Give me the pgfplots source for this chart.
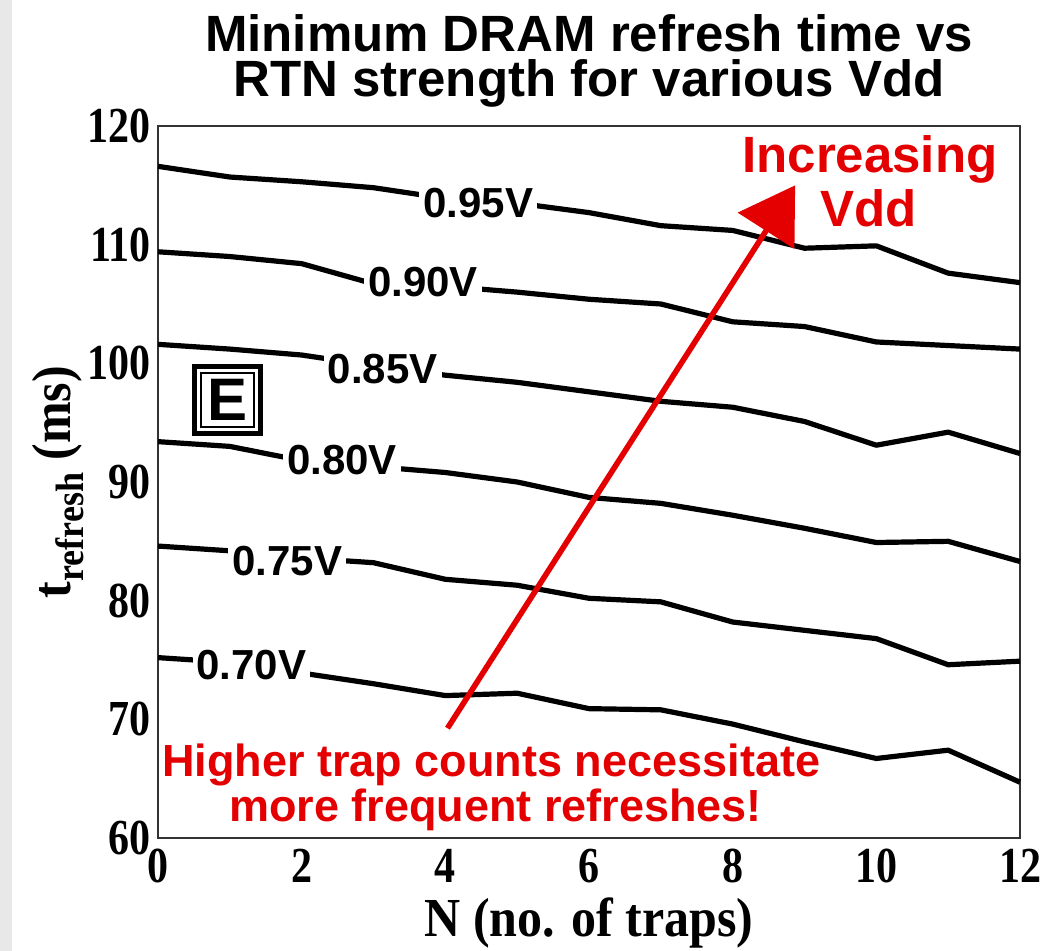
\documentclass[border=0pt]{standalone}
\usepackage{pgfplots}
\pgfplotsset{compat=1.18}
\usepackage{fontspec}
\setmainfont{Liberation Serif}
\newfontfamily\arial{Liberation Sans}
\usetikzlibrary{arrows.meta}
\definecolor{annred}{RGB}{228,0,0}

\begin{document}
\begin{tikzpicture}
\begin{axis}[
  at={(0,0)}, anchor=south west,
  scale only axis, width=431pt, height=356pt,
  xmin=0, xmax=12, ymin=60, ymax=120,
  xtick={0,2,...,12}, ytick={60,70,...,120},
  major tick length=0pt,
  axis line style={draw=black!80, line width=0.8pt},
  tick label style={font=\fontsize{21}{21}\selectfont\bfseries},
  xticklabel={\scalebox{1}[1.2]{\pgfmathprintnumber{\tick}}},
  yticklabel={\scalebox{1}[1.2]{\pgfmathprintnumber{\tick}}},
  xticklabel style={yshift=-2pt},
  /pgf/number format/assume math mode=true,
  xlabel={\scalebox{1}[1.1]{N (no. of traps)}},
  xlabel style={font=\fontsize{25}{25}\selectfont\bfseries, at={(axis description cs:0.5,0)}, anchor=base, yshift=-49.5pt},
  ylabel={\scalebox{1}[1.1]{t\raisebox{-0.5ex}{\fontsize{18}{18}\selectfont refresh} (ms)}},
  ylabel style={font=\fontsize{25}{25}\selectfont\bfseries, at={(axis description cs:0,0.5)}, anchor=base, yshift=43.5pt},
  clip=false,
]
\tikzset{crv/.style={black, line width=2.6pt, line join=round, mark=none}}
% 0.95 V
\addplot[crv] coordinates {(0,116.6) (1,115.7) (2,115.3) (3,114.8) (4,113.9) (5,113.5) (6,112.7) (7,111.6) (8,111.2) (9,109.7) (10,109.9) (11,107.6) (12,106.8)};
% 0.90 V
\addplot[crv] coordinates {(0,109.4) (1,109.0) (2,108.4) (3,106.7) (4,106.5) (5,106.0) (6,105.4) (7,105.0) (8,103.5) (9,103.1) (10,101.8) (11,101.5) (12,101.2)};
% 0.85 V
\addplot[crv] coordinates {(0,101.6) (1,101.2) (2,100.7) (3,99.8) (4,99.0) (5,98.4) (6,97.6) (7,96.8) (8,96.3) (9,95.1) (10,93.1) (11,94.2) (12,92.4)};
% 0.80 V
\addplot[crv] coordinates {(0,93.4) (1,93.0) (2,91.8) (3,91.3) (4,90.8) (5,90.0) (6,88.7) (7,88.2) (8,87.2) (9,86.1) (10,84.9) (11,85.0) (12,83.3)};
% 0.75 V
\addplot[crv] coordinates {(0,84.6) (1,84.2) (2,83.6) (3,83.2) (4,81.8) (5,81.3) (6,80.2) (7,79.9) (8,78.2) (9,77.5) (10,76.8) (11,74.6) (12,74.9)};
% 0.70 V
\addplot[crv] coordinates {(0,75.2) (1,74.8) (2,73.9) (3,73.0) (4,72.0) (5,72.2) (6,70.9) (7,70.8) (8,69.6) (9,68.1) (10,66.7) (11,67.4) (12,64.7)};

\tikzset{vlab/.style={fill=white, inner xsep=2pt, inner ysep=1pt, font=\arial\bfseries\fontsize{21}{21}\selectfont}}
\node[vlab] at (axis cs:4.46,113.5) {0.95V};
\node[vlab] at (axis cs:3.69,106.85) {0.90V};
\node[vlab] at (axis cs:3.13,99.5) {0.85V};
\node[vlab] at (axis cs:2.56,91.85) {0.80V};
\node[vlab] at (axis cs:1.80,83.3) {0.75V};
\node[vlab] at (axis cs:1.30,74.6) {0.70V};

\node[draw, line width=0.85pt, minimum width=26.5pt, minimum height=27pt, inner sep=0pt, font=\arial\bfseries\fontsize{30}{30}\selectfont] (ebox) at (axis cs:0.97,96.9) {E};
\draw[line width=2.5pt] ([shift={(-2.75pt,-2.75pt)}]ebox.south west) rectangle ([shift={(2.75pt,2.75pt)}]ebox.north east);

\draw[annred, line width=2.8pt, -{Triangle[length=27pt,width=33pt]}] (axis cs:4.03,69.25) -- (axis cs:8.87,115.0);

\tikzset{ann/.style={text=annred, anchor=base, inner sep=0pt, font=\arial\bfseries\fontsize{25.5}{25.5}\selectfont}}
\node[ann] at (axis cs:9.91,116.05) {Increasing};
\node[ann] at (axis cs:9.89,111.5) {Vdd};
\tikzset{ann2/.style={text=annred, anchor=base, inner sep=0pt, font=\arial\bfseries\fontsize{22.5}{22.5}\selectfont}}
\node[ann2] at (axis cs:4.64,65.15) {Higher trap counts necessitate};
\node[ann2] at (axis cs:4.70,61.35) {more frequent refreshes!};

\node[anchor=base, inner sep=0pt, font=\arial\bfseries] at ([yshift=37pt]axis cs:6,120)
  {\parbox[t]{420pt}{\centering\fontsize{25.5}{22.5}\selectfont Minimum DRAM refresh time vs\\RTN strength for various Vdd}};
\end{axis}
\pgfresetboundingbox
\useasboundingbox (-79pt,-56.5pt) rectangle (443pt,419pt);
\fill[black!9] (-79pt,-56.5pt) rectangle (-73pt,419pt);
\end{tikzpicture}
\end{document}
